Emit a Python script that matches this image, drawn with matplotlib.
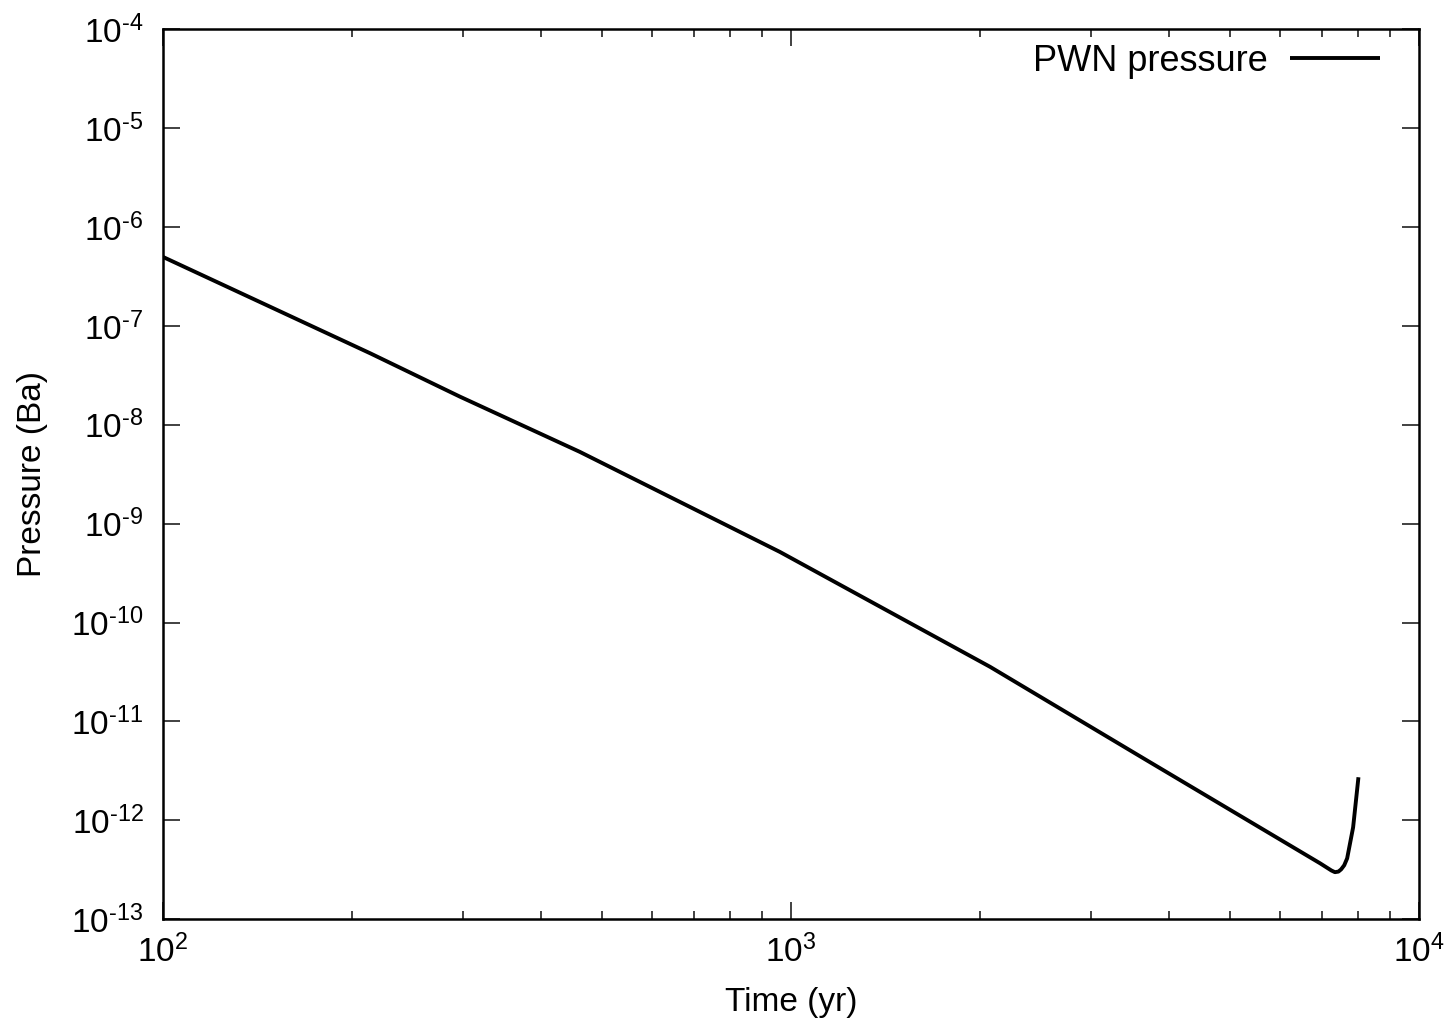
"""PWN pressure versus time, log-log plot."""

import matplotlib
matplotlib.use("Agg")
import matplotlib.pyplot as plt
import numpy as np
from matplotlib.ticker import LogLocator, NullLocator, FixedLocator, FixedFormatter

plt.rcParams["font.family"] = ["Liberation Sans", "DejaVu Sans"]
plt.rcParams["mathtext.fontset"] = "custom"
plt.rcParams["mathtext.rm"] = "Liberation Sans"
plt.rcParams["mathtext.it"] = "Liberation Sans"

# time (yr) and pressure (Ba) along the curve
time_yr = [100, 214, 297, 461, 960, 2075, 3684, 6958, 7250, 7345, 7440,
           7514, 7600, 7682, 7852, 8007]
pressure_ba = [5.0e-7, 5.28e-8, 1.93e-8, 5.33e-9, 5.18e-10, 3.56e-11,
               4.04e-12, 3.66e-13, 3.1e-13, 2.98e-13, 3.02e-13, 3.18e-13,
               3.5e-13, 4.11e-13, 8.47e-13, 2.72e-12]

x_ticks = [1e2, 1e3, 1e4]
x_ticklabels = [r"$10^{2}$", r"$10^{3}$", r"$10^{4}$"]
y_exponents = list(range(-13, -3))
y_ticklabels = [r"$10^{\text{-}%d}$" % -e for e in y_exponents]

fig = plt.figure(figsize=(14.51, 10.24), dpi=100)
ax = fig.add_axes([0.1123, 0.1025, 0.9780 - 0.1123, 0.9712 - 0.1025])

ax.plot(time_yr, pressure_ba, color="black", lw=2.8, label="PWN pressure",
        solid_joinstyle="round", solid_capstyle="butt")

ax.set_xscale("log")
ax.set_yscale("log")
ax.set_xlim(1e2, 1e4)
ax.set_ylim(1e-13, 1e-4)

ax.xaxis.set_major_locator(FixedLocator(x_ticks))
ax.xaxis.set_major_formatter(FixedFormatter(x_ticklabels))
ax.xaxis.set_minor_locator(LogLocator(base=10, subs=np.arange(2, 10)))
ax.xaxis.set_minor_formatter(plt.NullFormatter())
y_vals = [10.0 ** e for e in y_exponents]
ax.yaxis.set_major_locator(FixedLocator(y_vals))
ax.yaxis.set_major_formatter(FixedFormatter(y_ticklabels))
ax.yaxis.set_minor_locator(NullLocator())

ax.tick_params(which="both", direction="in", top=True, right=True,
               labelsize=24, width=1.3, color="#333333")
ax.tick_params(which="major", length=12)
ax.tick_params(which="minor", length=6)
ax.tick_params(axis="y", pad=14)
ax.tick_params(axis="x", pad=11)
for sp in ax.spines.values():
    sp.set_linewidth(1.8)

ax.set_xlabel("Time (yr)", fontsize=24, labelpad=13)
ax.set_ylabel("Pressure (Ba)", fontsize=24, labelpad=17)

ax.legend(loc="upper right", bbox_to_anchor=(0.9804, 1.0), borderaxespad=0,
          frameon=False, fontsize=26, markerfirst=False,
          handlelength=2.5, handletextpad=0.6)

fig.savefig("out.png", dpi=100)
